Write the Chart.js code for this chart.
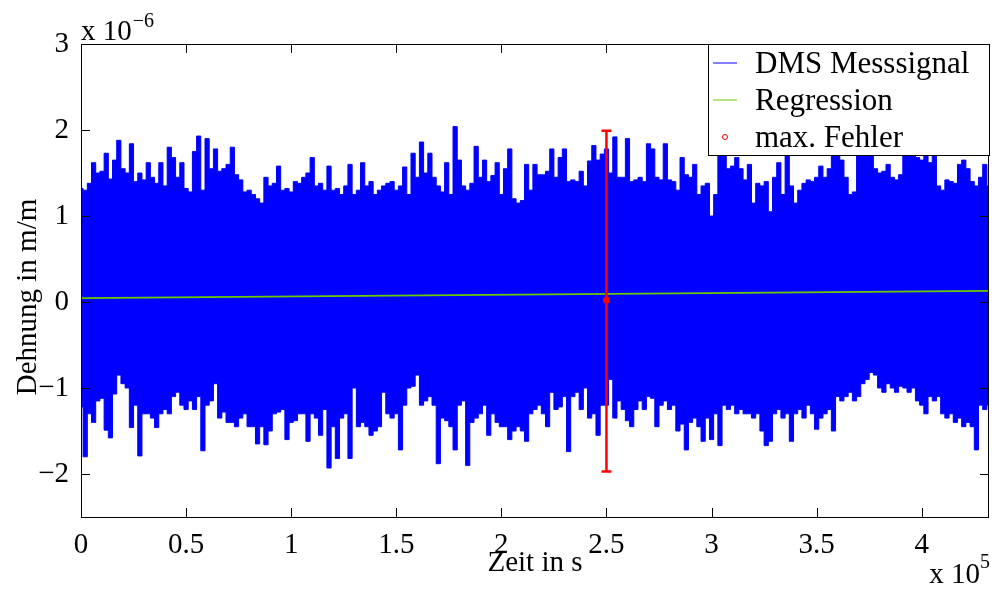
<!DOCTYPE html>
<html>
<head>
<meta charset="utf-8">
<title>DMS Messsignal</title>
<script src="https://cdn.jsdelivr.net/npm/chart.js@4.4.1/dist/chart.umd.min.js"></script>
<style>
  html, body { margin: 0; padding: 0; background: #fff; }
  #wrap { width: 992px; height: 590px; }
</style>
</head>
<body>
<div id="wrap"><canvas id="dmsChart" width="992" height="590"></canvas></div>
<script>
// Messdaten (Dehnung in 1e-6 m/m), Abtastung alle 2000 s ueber 432000 s
const timeStep = 2000;
const timeMax = 432000;

// obere / untere Huellkurve des DMS-Signals
const signalUpper = [
  1.32, 1.30, 1.38, 1.62, 1.50, 1.52, 1.73, 1.43, 1.65, 1.88,
  1.55, 1.50, 1.84, 1.40, 1.50, 1.42, 1.62, 1.45, 1.38, 1.62,
  1.35, 1.80, 1.68, 1.45, 1.62, 1.32, 1.28, 1.75, 1.93, 1.30,
  1.90, 1.55, 1.78, 1.52, 1.55, 1.60, 1.80, 1.48, 1.42, 1.28,
  1.30, 1.25, 1.20, 1.15, 1.45, 1.35, 1.38, 1.58, 1.30, 1.32,
  1.28, 1.40, 1.38, 1.45, 1.50, 1.68, 1.35, 1.38, 1.30, 1.58,
  1.30, 1.32, 1.25, 1.35, 1.60, 1.25, 1.30, 1.62, 1.35, 1.40,
  1.25, 1.30, 1.35, 1.38, 1.40, 1.30, 1.35, 1.57, 1.25, 1.73,
  1.45, 1.86, 1.50, 1.73, 1.45, 1.35, 1.28, 1.62, 1.25, 2.04,
  1.65, 1.35, 1.30, 1.38, 1.81, 1.45, 1.65, 1.40, 1.47, 1.62,
  1.25, 1.55, 1.78, 1.20, 1.15, 1.18, 1.60, 1.30, 1.60, 1.48,
  1.48, 1.52, 1.78, 1.45, 1.68, 1.78, 1.40, 1.42, 1.40, 1.52,
  1.35, 1.64, 1.82, 1.65, 1.72, 1.78, 1.50, 1.92, 1.45, 1.45,
  1.90, 1.40, 1.42, 1.45, 1.40, 1.84, 1.78, 1.45, 1.42, 1.84,
  1.42, 1.40, 1.30, 1.68, 1.48, 1.45, 1.60, 1.25, 1.35, 1.38,
  1.00, 1.25, 1.75, 1.75, 1.55, 1.58, 1.68, 1.55, 1.42, 1.60,
  1.15, 1.38, 1.35, 1.40, 1.05, 1.45, 1.62, 1.25, 1.80, 1.35,
  1.15, 1.30, 1.38, 1.42, 1.40, 1.45, 1.58, 1.45, 1.55, 1.80,
  1.75, 1.65, 1.45, 1.25, 1.28, 1.70, 1.75, 1.70, 1.72, 1.55,
  1.50, 1.52, 1.60, 1.45, 1.42, 1.48, 1.72, 1.75, 1.70, 1.68,
  1.65, 1.70, 1.62, 1.80, 1.35, 1.30, 1.42, 1.40, 1.38, 1.60,
  1.65, 1.55, 1.40, 1.35, 1.45, 1.60, 1.35
];
const signalLower = [
  -1.22, -1.80, -1.30, -1.40, -1.15, -1.12, -1.49, -1.58, -1.07, -0.85,
  -0.95, -1.00, -1.46, -1.20, -1.79, -1.30, -1.30, -1.35, -1.46, -1.30,
  -1.25, -1.30, -1.10, -1.05, -1.20, -1.25, -1.15, -1.25, -1.10, -1.73,
  -1.20, -1.15, -0.95, -1.35, -1.28, -1.40, -1.40, -1.45, -1.35, -1.30,
  -1.45, -1.45, -1.65, -1.45, -1.66, -1.50, -1.30, -1.28, -1.25, -1.60,
  -1.40, -1.38, -1.30, -1.30, -1.62, -1.30, -1.35, -1.55, -1.25, -1.93,
  -1.45, -1.82, -1.35, -1.30, -1.82, -1.00, -1.45, -1.40, -1.45, -1.55,
  -1.50, -1.45, -1.05, -1.30, -1.35, -1.30, -1.72, -1.20, -1.00, -0.98,
  -0.85, -1.20, -1.15, -1.10, -1.20, -1.88, -1.35, -1.38, -1.45, -1.72,
  -1.20, -1.15, -1.90, -1.40, -1.35, -1.30, -1.20, -1.55, -1.30, -1.40,
  -1.45, -1.45, -1.60, -1.50, -1.45, -1.50, -1.62, -1.30, -1.25, -1.20,
  -1.30, -1.45, -1.05, -1.25, -1.22, -1.10, -1.74, -1.10, -1.05, -1.25,
  -1.00, -1.35, -1.30, -1.55, -1.20, -1.20, -0.90, -1.35, -1.15, -1.25,
  -1.38, -1.45, -1.25, -1.15, -1.25, -1.10, -1.12, -1.45, -1.20, -1.15,
  -1.25, -1.20, -1.50, -1.42, -1.72, -1.40, -1.35, -1.45, -1.62, -1.35,
  -1.60, -1.30, -1.67, -1.20, -1.25, -1.20, -1.30, -1.25, -1.30, -1.30,
  -1.35, -1.30, -1.50, -1.67, -1.62, -1.30, -1.25, -1.35, -1.30, -1.62,
  -1.30, -1.25, -1.35, -1.20, -1.30, -1.48, -1.35, -1.30, -1.25, -1.50,
  -1.10, -1.15, -1.10, -1.05, -1.15, -1.10, -0.95, -0.90, -0.82, -0.85,
  -1.00, -1.05, -0.95, -1.00, -1.05, -0.98, -1.00, -1.05, -1.00, -1.15,
  -1.20, -1.30, -1.10, -1.15, -1.10, -1.30, -1.35, -1.30, -1.40, -1.35,
  -1.45, -1.40, -1.45, -1.72, -1.20, -1.25, -1.20
];

// Regressionsgerade (Anfang / Ende)
const regressionTimes = [0, 432000];
const regressionValues = [0.045, 0.13];

// groesster Fehler
const errorTime = 250000;
const errorValue = 0.02;
const errorLow = -1.97;
const errorHigh = 1.99;

// Achsenbeschriftung
const xTickValues = [0, 50000, 100000, 150000, 200000, 250000, 300000, 350000, 400000];
const xTickLabels = ['0', '0.5', '1', '1.5', '2', '2.5', '3', '3.5', '4'];
const yTickValues = [-2, -1, 0, 1, 2, 3];
const yTickLabels = ['\u22122', '\u22121', '0', '1', '2', '3'];
const yTitle = 'Dehnung in m/m';

const blue = '#0000ff';
const green = '#66cc00';
const red = '#ff0000';
const fontFamily = "'Liberation Serif', 'Times New Roman', serif";
const font = { family: fontFamily, size: 29 };

const times = signalUpper.map((_, i) => i * timeStep);
const upperPoints = times.map((t, i) => ({ x: t, y: signalUpper[i] }));
const lowerPoints = times.map((t, i) => ({ x: t, y: signalLower[i] }));
const regressionPoints = regressionTimes.map((t, i) => ({ x: t, y: regressionValues[i] }));

// Rahmen, Ticks nach innen, Fehlerbalken, Exponenten und Legende
const matlabLook = {
    id: 'matlabLook',
    beforeDraw(chart) {
        const ctx = chart.ctx;
        ctx.save();
        ctx.fillStyle = '#fff';
        ctx.fillRect(0, 0, chart.width, chart.height);
        ctx.restore();
    },
    afterDatasetsDraw(chart) {
        const ctx = chart.ctx;
        const xs = chart.scales.x, ys = chart.scales.y;
        const px = xs.getPixelForValue(errorTime);
        const yTop = ys.getPixelForValue(errorHigh);
        const yBot = ys.getPixelForValue(errorLow);
        ctx.save();
        ctx.strokeStyle = red;
        ctx.lineWidth = 2.5;
        ctx.beginPath();
        ctx.moveTo(px, yTop); ctx.lineTo(px, yBot);
        ctx.moveTo(px - 5, yTop); ctx.lineTo(px + 5, yTop);
        ctx.moveTo(px - 5, yBot); ctx.lineTo(px + 5, yBot);
        ctx.stroke();
        ctx.fillStyle = red;
        ctx.beginPath();
        ctx.arc(px, ys.getPixelForValue(errorValue), 3.5, 0, Math.PI * 2);
        ctx.fill();
        ctx.restore();
    },
    afterDraw(chart) {
        const ctx = chart.ctx;
        const a = chart.chartArea;
        const xs = chart.scales.x, ys = chart.scales.y;
        const tick = 9;
        ctx.save();
        ctx.strokeStyle = '#000';
        ctx.lineWidth = 1;
        ctx.beginPath();
        xTickValues.forEach(v => {
            const p = Math.round(xs.getPixelForValue(v)) + 0.5;
            ctx.moveTo(p, a.bottom); ctx.lineTo(p, a.bottom - tick);
            ctx.moveTo(p, a.top); ctx.lineTo(p, a.top + tick);
        });
        yTickValues.forEach(v => {
            const p = Math.round(ys.getPixelForValue(v)) + 0.5;
            ctx.moveTo(a.left, p); ctx.lineTo(a.left + tick, p);
            ctx.moveTo(a.right, p); ctx.lineTo(a.right - tick, p);
        });
        ctx.stroke();
        ctx.strokeRect(Math.round(a.left) + 0.5, Math.round(a.top) + 0.5,
            Math.round(a.right - a.left) - 1, Math.round(a.bottom - a.top));

        // y-Achsentitel, gedreht
        ctx.fillStyle = '#000';
        ctx.font = `29px ${fontFamily}`;
        ctx.save();
        ctx.translate(28, 297);
        ctx.rotate(-Math.PI / 2);
        ctx.textAlign = 'center';
        ctx.textBaseline = 'middle';
        ctx.fillText(yTitle, 0, 0);
        ctx.restore();

        // Exponenten der Achsen
        ctx.textBaseline = 'alphabetic';
        ctx.textAlign = 'left';
        ctx.font = `29px ${fontFamily}`;
        ctx.fillText('x 10', a.left, 40);
        let w = ctx.measureText('x 10').width;
        ctx.font = `20px ${fontFamily}`;
        ctx.fillText('\u22126', a.left + w + 1, 27);

        ctx.font = `20px ${fontFamily}`;
        const supW = ctx.measureText('5').width;
        ctx.font = `29px ${fontFamily}`;
        w = ctx.measureText('x 10').width;
        const xStart = a.right + 1 - supW - w;
        ctx.fillText('x 10', xStart, 583);
        ctx.font = `20px ${fontFamily}`;
        ctx.fillText('5', xStart + w, 568);

        // Legende
        const lx = Math.round(a.right) - 281, ly = Math.round(a.top);
        ctx.fillStyle = '#fff';
        ctx.fillRect(lx, ly, 281, 112);
        ctx.strokeStyle = '#000';
        ctx.strokeRect(lx + 0.5, ly + 0.5, 281, 111);
        const entries = [
            { text: 'DMS Messsignal', color: blue, kind: 'line' },
            { text: 'Regression', color: green, kind: 'line' },
            { text: 'max. Fehler', color: red, kind: 'dot' }
        ];
        ctx.font = `31px ${fontFamily}`;
        entries.forEach((e, i) => {
            const cy = ly + 19 + i * 37;
            ctx.strokeStyle = e.color;
            ctx.lineWidth = 1;
            ctx.beginPath();
            if (e.kind === 'line') {
                ctx.moveTo(lx + 5, cy); ctx.lineTo(lx + 29, cy);
            } else {
                ctx.arc(lx + 17, cy, 2.5, 0, Math.PI * 2);
            }
            ctx.stroke();
            ctx.fillStyle = '#000';
            ctx.fillText(e.text, lx + 47, cy + 10);
        });
        ctx.restore();
    }
};

const ctx = document.getElementById('dmsChart').getContext('2d');
const chart = new Chart(ctx, {
    type: 'line',
    data: {
        datasets: [
            {
                label: 'DMS Messsignal',
                data: upperPoints,
                borderColor: blue,
                backgroundColor: blue,
                borderWidth: 1,
                fill: '+1',
                pointRadius: 0,
                stepped: 'middle',
                order: 3
            },
            {
                label: 'DMS Messsignal',
                data: lowerPoints,
                borderColor: blue,
                borderWidth: 1,
                fill: false,
                pointRadius: 0,
                stepped: 'middle',
                order: 3
            },
            {
                label: 'Regression',
                data: regressionPoints,
                borderColor: green,
                borderWidth: 1.8,
                fill: false,
                pointRadius: 0,
                order: 2
            }
        ]
    },
    options: {
        responsive: false,
        animation: false,
        events: [],
        layout: { padding: { top: 44, right: 3, left: 0, bottom: 0 } },
        plugins: {
            legend: { display: false },
            tooltip: { enabled: false }
        },
        scales: {
            x: {
                type: 'linear',
                min: 0,
                max: timeMax,
                afterBuildTicks: s => { s.ticks = xTickValues.map(v => ({ value: v })); },
                afterFit: s => { s.height = 73; },
                grid: { display: false },
                border: { display: false },
                ticks: {
                    font: font,
                    color: '#000',
                    padding: 3,
                    maxRotation: 0,
                    autoSkip: false,
                    callback: (v, i) => xTickLabels[i]
                },
                title: {
                    display: true,
                    text: 'Zeit in s',
                    font: font,
                    color: '#000',
                    padding: { top: 0, bottom: 9 }
                }
            },
            y: {
                type: 'linear',
                min: -2.5,
                max: 3,
                afterBuildTicks: s => { s.ticks = yTickValues.map(v => ({ value: v })); },
                afterFit: s => { s.width = 81; },
                grid: { display: false },
                border: { display: false },
                ticks: {
                    font: font,
                    color: '#000',
                    padding: 4,
                    autoSkip: false,
                    callback: (v, i) => yTickLabels[i]
                },
                title: { display: false }
            }
        }
    },
    plugins: [matlabLook]
});
</script>
</body>
</html>
